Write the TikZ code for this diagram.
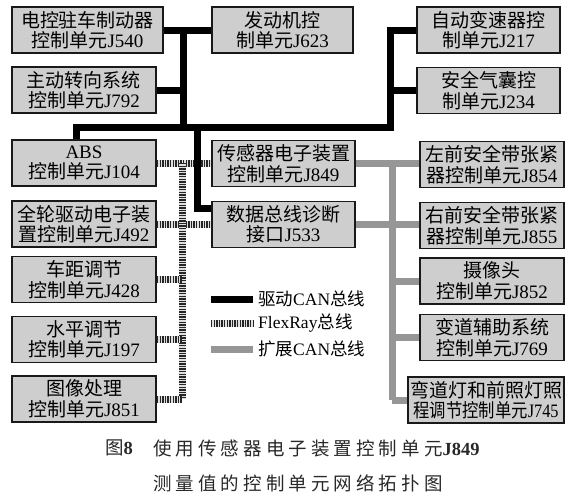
\documentclass[tikz,border=0pt]{standalone}
\usepackage{fontspec}
\usepackage{graphicx}
\setmainfont{Liberation Serif}
\newfontfamily\cjk{Noto Sans CJK SC}
\newfontfamily\capcjk[LetterSpace=22]{Noto Sans CJK SC}
\newfontfamily\latn{Liberation Serif}
\newcommand\Lat[1]{{\latn #1}}
\usetikzlibrary{calc}
\pgfdeclarelayer{background}
\pgfsetlayers{background,main}
\definecolor{boxfill}{RGB}{206,206,206}
\definecolor{extgray}{RGB}{150,150,150}
\definecolor{captxt}{RGB}{40,40,40}
\tikzset{
  ecu/.style={draw=black!90, line width=1.8pt, fill=boxfill, inner sep=0pt,
    minimum height=46pt, align=center, font=\cjk\fontsize{19}{20.5}\selectfont},
  drivecan/.style={line width=7pt, draw=black, line join=miter},
  extcan/.style={line width=7pt, draw=extgray, line join=miter},
  flexray/.style={line width=7pt, draw=black!85, dash pattern=on 1.4pt off 1.2pt,
    preaction={draw=gray!25, solid, line width=7pt}},
  legtxt/.style={anchor=west, inner sep=0pt, font=\cjk\fontsize{17.5}{19}\selectfont},
  captext/.style={anchor=west, inner sep=0pt, text=captxt, font=\capcjk\fontsize{18.5}{20}\selectfont}
}
\begin{document}
\begin{tikzpicture}[x=1pt,y=-1pt]
\useasboundingbox (0,0) rectangle (574,496);

% ---- control units ----
\node[ecu, minimum width=151pt] (J540) at (87.5,30) {电控驻车制动器\\控制单元\Lat{J540}};
\node[ecu, minimum width=141pt] (J623) at (282.5,30) {发动机控\\制单元\Lat{J623}};
\node[ecu, minimum width=144pt] (J792) at (84,90) {主动转向系统\\控制单元\Lat{J792}};
\node[ecu, minimum width=143pt] (J217) at (488.5,30) {自动变速器控\\制单元\Lat{J217}};
\node[ecu, minimum width=143pt] (J234) at (488.5,90.5) {安全气囊控\\制单元\Lat{J234}};

\node[ecu, minimum width=144pt] (J104) at (84,163) {\Lat{ABS}\\控制单元\Lat{J104}};
\node[ecu, minimum width=143pt] (J849) at (283.5,163.5) {传感器电子装置\\控制单元\Lat{J849}};
\node[ecu, minimum width=143pt] (J533) at (283.5,224.5) {数据总线诊断\\接口\Lat{J533}};
\node[ecu, minimum width=144pt] (J492) at (84,224) {全轮驱动电子装\\置控制单元\Lat{J492}};
\node[ecu, minimum width=144pt] (J428) at (84,279.5) {车距调节\\控制单元\Lat{J428}};
\node[ecu, minimum width=144pt] (J197) at (84,339.5) {水平调节\\控制单元\Lat{J197}};
\node[ecu, minimum width=144pt] (J851) at (84,399) {图像处理\\控制单元\Lat{J851}};

\node[ecu, minimum width=144pt] (J854) at (492,164.5) {左前安全带张紧\\器控制单元\Lat{J854}};
\node[ecu, minimum width=144pt] (J855) at (492,225.5) {右前安全带张紧\\器控制单元\Lat{J855}};
\node[ecu, minimum width=144pt] (J852) at (492,281) {摄像头\\控制单元\Lat{J852}};
\node[ecu, minimum width=144pt] (J769) at (492,337.5) {变道辅助系统\\控制单元\Lat{J769}};
\node[ecu, minimum width=156pt] (J745) at (486,400)
  {弯道灯和前照灯照\\\scalebox{0.86}[1]{程调节控制单元\Lat{J745}}};

% ---- bus coordinates ----
\coordinate (bA) at (183,0);
\coordinate (bB) at (390,0);
\coordinate (hub) at (0,127);
\coordinate (bL) at (76,0);
\coordinate (bM) at (197,0);
\coordinate (k533) at (212,208);
\coordinate (fx) at (182,0);
\coordinate (gx) at (392,0);

\begin{pgfonlayer}{background}
\fill[white] (0,0) rectangle (574,496);
% FlexRay
\draw[flexray] (J104.east) -- (J104.east -| J849.west);
\draw[flexray] (J492.east) -- (J492.east -| J533.west);
\draw[flexray] (J104.east -| fx) -- (J851.east -| fx);
\draw[flexray] (J428.east) -- (J428.east -| fx);
\draw[flexray] (J197.east) -- (J197.east -| fx);
\draw[flexray] (J851.east) -- (J851.east -| fx);
% extended CAN
\draw[extcan] (J849.east) -- (J849.east -| J854.west);
\draw[extcan] (J533.east) -- (J533.east -| J855.west);
\draw[extcan] (J849.east -| gx) -- (J745.west -| gx);
\draw[extcan] (J852.west) -- (J852.west -| gx);
\draw[extcan] (J769.west) -- (J769.west -| gx);
\draw[extcan] (J745.west) -- (J745.west -| gx);
% drive CAN
\draw[drivecan] (J540.east) -- (J623.west);
\draw[drivecan] (J540.east -| bA) -- (hub -| bA);
\draw[drivecan] (J792.east) -- (J792.east -| bA);
\draw[drivecan] (J217.west) -- (J217.west -| bB) -- (hub -| bB) -- (hub -| bL) -- (J104.north -| bL);
\draw[drivecan] (J234.west) -- (J234.west -| bB);
\draw[drivecan] (hub -| bM) -- (k533 -| bM) -- (k533);
\end{pgfonlayer}

% ---- legend ----
\coordinate (lg1a) at (211,299); \coordinate (lg1b) at (253,299);
\coordinate (lg2a) at (211,323); \coordinate (lg2b) at (253,323);
\coordinate (lg3a) at (211,349); \coordinate (lg3b) at (253,349);
\draw[drivecan] (lg1a) -- (lg1b);
\draw[flexray] (lg2a) -- (lg2b);
\draw[extcan] (lg3a) -- (lg3b);
\node[legtxt] (leg1) at (258,299) {驱动\Lat{CAN}总线};
\node[legtxt] (leg2) at (258,323) {\Lat{FlexRay}总线};
\node[legtxt] (leg3) at (258,349) {扩展\Lat{CAN}总线};

% ---- caption ----
\node[captext] (capno) at (105,448) {图{\latn\bfseries 8}};
\node[captext] (cap1) at (153,448) {使用传感器电子装置控制单元{\latn\bfseries J849}};
\node[captext] (cap2) at (153,483) {测量值的控制单元网络拓扑图};
\end{tikzpicture}
\end{document}
